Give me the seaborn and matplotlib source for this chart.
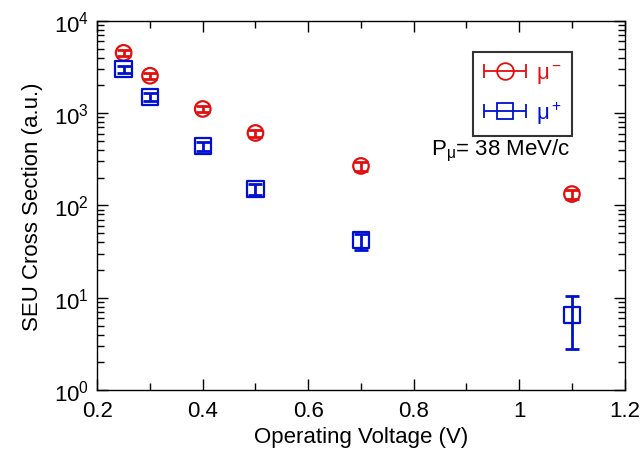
"""SEU cross section vs operating voltage."""
import numpy as np
import pandas as pd
import seaborn as sns
import matplotlib.pyplot as plt
from matplotlib.ticker import LogLocator, NullFormatter, MultipleLocator
from matplotlib.legend_handler import HandlerErrorbar
from matplotlib.container import ErrorbarContainer

voltage_neg = [0.25, 0.3, 0.4, 0.5, 0.7, 1.1]
sigma_neg = [4500, 2540, 1110, 610, 268, 133]
err_neg = [300, 170, 90, 55, 30, 15]

voltage_pos = [0.25, 0.3, 0.4, 0.5, 0.7, 1.1]
sigma_pos = [3000, 1500, 440, 151, 42, 6.5]
err_lo_pos = [250, 140, 50, 20, 9, 3.7]
err_hi_pos = [250, 140, 50, 20, 7, 3.9]

red = "#e01010"
blue = "#0010d0"

sns.set_theme(style="ticks", rc={"text.color": "black", "axes.labelcolor": "black"})
plt.rcParams["font.family"] = ["Liberation Sans", "DejaVu Sans"]
plt.rcParams["mathtext.fontset"] = "custom"
plt.rcParams["mathtext.rm"] = "Liberation Sans"
plt.rcParams["mathtext.it"] = "Liberation Sans"

df = pd.DataFrame({
    "V": voltage_neg + voltage_pos,
    "sigma": sigma_neg + sigma_pos,
    "muon": ["neg"] * len(voltage_neg) + ["pos"] * len(voltage_pos),
})

fig, ax = plt.subplots(figsize=(6.44, 4.64), dpi=100)

ax.errorbar(voltage_neg, sigma_neg, yerr=err_neg, fmt="none", ecolor=red,
            elinewidth=2, capsize=5, capthick=2, zorder=2)
ax.errorbar(voltage_pos, sigma_pos, yerr=[err_lo_pos, err_hi_pos], fmt="none",
            ecolor=blue, elinewidth=2, capsize=5, capthick=2, zorder=2)

sns.scatterplot(data=df[df.muon == "neg"], x="V", y="sigma", ax=ax,
                marker="o", s=125, facecolor="none", edgecolor=red,
                linewidth=1.6, legend=False, zorder=3)
sns.scatterplot(data=df[df.muon == "pos"], x="V", y="sigma", ax=ax,
                marker="s", s=140, facecolor="none", edgecolor=blue,
                linewidth=1.6, legend=False, zorder=3)

# legend proxies: marker with horizontal bar and caps
h1 = ax.errorbar([np.nan], [np.nan], xerr=[1], fmt="o", color=red,
                 mfc="none", ms=12, mew=1.3, capsize=5, elinewidth=1.3)
h2 = ax.errorbar([np.nan], [np.nan], xerr=[1], fmt="s", color=blue,
                 mfc="none", ms=12, mew=1.3, capsize=5, elinewidth=1.3)
leg = ax.legend([h1, h2], [r"$\mathregular{\mu^-}$", r"$\mathregular{\mu^+}$"],
                loc="upper right", bbox_to_anchor=(0.9, 0.915), fontsize=16,
                frameon=True, fancybox=False, handlelength=2.0,
                handletextpad=0.4, borderpad=0.45, labelspacing=0.6,
                borderaxespad=0,
                handler_map={ErrorbarContainer: HandlerErrorbar(xerr_size=0.95)})
leg.get_frame().set_edgecolor("black")
leg.get_frame().set_linewidth(1.5)
for txt, c in zip(leg.get_texts(), [red, blue]):
    txt.set_color(c)

ax.text(0.765, 0.65, r"$\mathregular{P_{\mu}}$= 38 MeV/c", transform=ax.transAxes,
        ha="center", va="center", fontsize=16, color="black")

ax.set_yscale("log")
ax.set_xlim(0.2, 1.2)
ax.set_ylim(1, 1e4)
ax.set_xticks([0.2, 0.4, 0.6, 0.8, 1.0, 1.2])
ax.set_xticklabels(["0.2", "0.4", "0.6", "0.8", "1", "1.2"])
ax.xaxis.set_minor_locator(MultipleLocator(0.1))
ax.yaxis.set_major_locator(LogLocator(base=10, numticks=10))
ax.yaxis.set_minor_locator(LogLocator(base=10, subs=np.arange(2, 10), numticks=10))
ax.yaxis.set_minor_formatter(NullFormatter())

ax.set_xlabel("Operating Voltage (V)", fontsize=16, labelpad=4, color="black")
ax.set_ylabel("SEU Cross Section (a.u.)", fontsize=16, labelpad=8, color="black")
ax.tick_params(which="both", direction="in", top=True, right=True, labelsize=16,
               colors="black")
ax.tick_params(which="major", length=8, width=1)
ax.tick_params(which="minor", length=5, width=1)
ax.tick_params(axis="x", pad=7)
ax.tick_params(axis="y", pad=6)
for s in ax.spines.values():
    s.set_color("black")
    s.set_linewidth(1)

fig.subplots_adjust(left=0.151, right=0.970, top=0.953, bottom=0.157)
fig.savefig("out.png", dpi=100)
